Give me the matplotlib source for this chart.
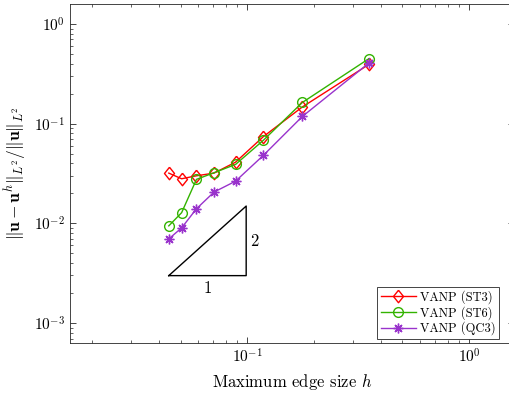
import matplotlib
matplotlib.use('Agg')
import matplotlib.pyplot as plt
import numpy as np

plt.rcParams['font.family'] = 'serif'
plt.rcParams['font.serif'] = ['cmr10', 'DejaVu Serif']
plt.rcParams['mathtext.fontset'] = 'cm'
plt.rcParams['axes.formatter.use_mathtext'] = True

# mesh sizes h = sqrt(2)/n
h = [0.0442, 0.0505, 0.0589, 0.0707, 0.0884, 0.1179, 0.1768, 0.3536]
err_st3 = [0.0319, 0.0280, 0.0300, 0.0319, 0.0411, 0.0740, 0.147, 0.394]
err_st6 = [0.00944, 0.0128, 0.0276, 0.0322, 0.0390, 0.0680, 0.163, 0.450]
err_qc3 = [0.00698, 0.00901, 0.0140, 0.0206, 0.0265, 0.0480, 0.118, 0.407]
labels = ['VANP (ST3)', 'VANP (ST6)', 'VANP (QC3)']

# slope triangle (rate 2)
tri_x = [0.0442, 0.0987]
tri_y0 = 0.00299
tri_rate = 2

# MATLAB-like diamond (a bit taller than wide)
diamond = [(0, 1), (0.8, 0), (0, -1), (-0.8, 0), (0, 1)]

fig = plt.figure(figsize=(5.1, 4.05), dpi=100)
W, H = 510, 405
ax = fig.add_axes([70 / W, (H - 343) / H, 443.6 / W, 339 / H])

ax.loglog(h, err_st3, '-', marker=diamond, color='#ff0000', mfc='none', ms=9, lw=1.0, mew=1.0, label=labels[0])
ax.loglog(h, err_st6, '-o', color='#33b300', mfc='none', ms=7, lw=1.0, mew=1.0, label=labels[1])
ax.loglog(h, err_qc3, '-', marker=(8, 2, 0), color='#9933cc', ms=7, lw=1.0, mew=1.0, label=labels[2])

x0, x1 = tri_x
y0 = tri_y0
y1 = y0 * (x1 / x0) ** tri_rate
ax.plot([x0, x1, x1, x0], [y0, y0, y1, y0], color='black', lw=1.0)
ax.text(np.sqrt(x0 * x1), y0 * 0.88, '1', ha='center', va='top', fontsize=12)
ax.text(x1 * 1.04, np.sqrt(y0 * y1), '2', ha='left', va='center', fontsize=12)

ax.set_xlim(10 ** -1.8, 10 ** 0.2)
ax.set_ylim(10 ** -3.2, 10 ** 0.2)
ax.set_xlabel('Maximum edge size $h$', fontsize=12)
ax.set_ylabel(r'$\|\mathbf{u}-\mathbf{u}^h\|_{L^2}/\|\mathbf{u}\|_{L^2}$', fontsize=12.5)

ax.tick_params(which='both', direction='in', top=True, right=True, colors='#262626',
               labelcolor='black', labelsize=11)
ax.tick_params(which='major', length=4, width=0.6)
ax.tick_params(which='minor', length=2, width=0.5)
ax.xaxis.set_major_locator(matplotlib.ticker.LogLocator(base=10, numticks=10))
ax.xaxis.set_minor_locator(matplotlib.ticker.LogLocator(base=10, subs=np.arange(2, 10), numticks=20))
ax.yaxis.set_minor_locator(matplotlib.ticker.LogLocator(base=10, subs=np.arange(2, 10), numticks=20))
for s in ax.spines.values():
    s.set_color('#262626')
    s.set_linewidth(0.6)

leg = ax.legend(loc='lower right', bbox_to_anchor=(499 / W, (H - 339) / H),
                bbox_transform=fig.transFigure, borderaxespad=0,
                fontsize=9, frameon=True, fancybox=False, framealpha=1, handlelength=2.8,
                borderpad=0.3, labelspacing=0.15, handletextpad=0.3)
leg.get_frame().set_edgecolor('#262626')
leg.get_frame().set_linewidth(0.6)

fig.savefig('out.png', dpi=100)
